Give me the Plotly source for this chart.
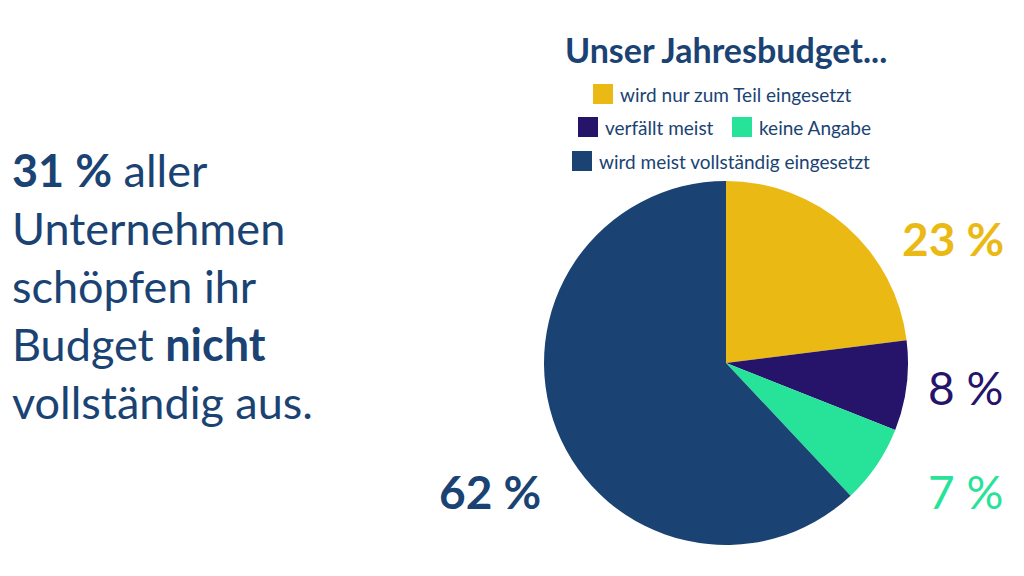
import plotly.graph_objects as go

# ---- data ----
categories = ["wird nur zum Teil eingesetzt", "verfällt meist", "keine Angabe",
              "wird meist vollständig eingesetzt"]
values = [23, 8, 7, 62]
pct_labels = ["23 %", "8 %", "7 %", "62 %"]
colors = ["#EBB914", "#26146B", "#27E39A", "#1A4373"]
title_text = "Unser Jahresbudget..."
left_lines = ["<b>31 %</b> aller", "Unternehmen", "schöpfen ihr",
              "Budget <b>nicht</b>", "vollständig aus."]

W, H = 1024, 576
OFF = 8  # page body margin
FONT = "Lato"
BLUE = "#1A4373"


def px(x):
    return (x - OFF) / W


def py(y):
    return 1 - (y - OFF) / H


fig = go.Figure()
cx, cy, r = 726, 363, 182
fig.add_trace(go.Pie(
    labels=categories, values=values, sort=False, direction="clockwise",
    rotation=0, marker=dict(colors=colors, line=dict(width=0)),
    textinfo="none", hoverinfo="label+percent", showlegend=False,
    domain=dict(x=[px(cx - r), px(cx + r)], y=[py(cy + r), py(cy - r)]),
))

ann = []
shapes = []

# title
ann.append(dict(x=px(726), y=py(50), text="<b>" + title_text + "</b>", showarrow=False,
                xanchor="center", yanchor="middle",
                font=dict(family=FONT, size=34, color=BLUE)))

# legend (manual layout: rows)
legend_items = [
    (0, 593, 94), (1, 578, 127), (2, 732, 127), (3, 572, 161)
]
for idx, x0, yc in legend_items:
    shapes.append(dict(type="rect", xref="paper", yref="paper",
                       x0=px(x0), x1=px(x0 + 20), y0=py(yc + 10), y1=py(yc - 10),
                       fillcolor=colors[idx], line=dict(width=0)))
    ann.append(dict(x=px(x0 + 25), y=py(yc), text=categories[idx], showarrow=False,
                    xanchor="left", yanchor="middle",
                    font=dict(family=FONT, size=19, color=BLUE)))

# percentage labels
pct_pos = [(953, 238), (965, 387), (965, 491), (490, 491)]
pct_fmt = ["<b>{}</b>", "{}", "{}", "<b>{}</b>"]
for i, (x, y) in enumerate(pct_pos):
    ann.append(dict(x=px(x), y=py(y), text=pct_fmt[i].format(pct_labels[i]),
                    showarrow=False, xanchor="center", yanchor="middle",
                    font=dict(family=FONT, size=46, color=colors[i])))

# left text block
for i, line in enumerate(left_lines):
    ann.append(dict(x=px(10), y=py(170 + i * 58), text=line, showarrow=False,
                    xanchor="left", yanchor="middle",
                    font=dict(family=FONT, size=45, color=BLUE)))

fig.update_layout(
    width=W, height=H, margin=dict(l=0, r=0, t=0, b=0),
    paper_bgcolor="white", plot_bgcolor="white",
    annotations=ann, shapes=shapes,
)

fig.write_html("out.html")
